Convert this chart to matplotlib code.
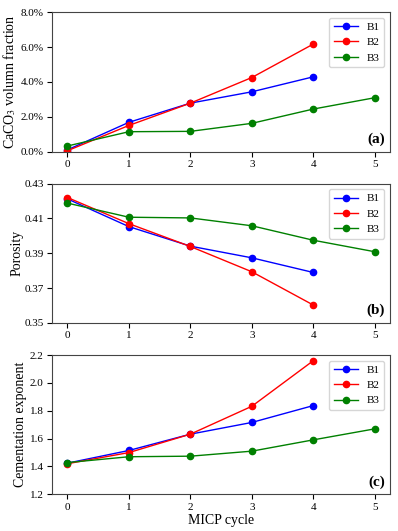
import numpy as np
import matplotlib.pyplot as plt
from matplotlib.ticker import FuncFormatter

plt.rcParams['font.family'] = ['Liberation Serif', 'DejaVu Serif']
plt.rcParams['mathtext.fontset'] = 'stix'

cycles_b12 = [0, 1, 2, 3, 4]
cycles_b3 = [0, 1, 2, 3, 4, 5]

# CaCO3 volume fraction (%)
caco3_b1 = [0.10, 1.68, 2.78, 3.43, 4.29]
caco3_b2 = [0.05, 1.50, 2.78, 4.25, 6.17]
caco3_b3 = [0.32, 1.14, 1.16, 1.62, 2.44, 3.09]

# porosity
por_b1 = [0.4212, 0.4053, 0.3941, 0.3874, 0.3790]
por_b2 = [0.4220, 0.4070, 0.3939, 0.3794, 0.3603]
por_b3 = [0.4188, 0.4107, 0.4103, 0.4058, 0.3975, 0.3909]

# cementation exponent
cem_b1 = [1.424, 1.515, 1.632, 1.716, 1.837]
cem_b2 = [1.420, 1.500, 1.632, 1.832, 2.159]
cem_b3 = [1.428, 1.470, 1.474, 1.510, 1.591, 1.670]

fig, axes = plt.subplots(3, 1, figsize=(3.98, 5.31), dpi=100)
fig.subplots_adjust(left=0.131, right=0.98, top=0.977, bottom=0.069, hspace=0.23)

panels = [
    (caco3_b1, caco3_b2, caco3_b3, r'CaCO$_3$ volumn fraction', (0, 8), [0, 2, 4, 6, 8], '(a)', -0.10),
    (por_b1, por_b2, por_b3, 'Porosity', (0.35, 0.43), [0.35, 0.37, 0.39, 0.41, 0.43], '(b)', -0.086),
    (cem_b1, cem_b2, cem_b3, 'Cementation exponent', (1.2, 2.2), [1.2, 1.4, 1.6, 1.8, 2.0, 2.2], '(c)', -0.074),
]

for i, (ax, (b1, b2, b3, ylab, ylim, yt, tag, lx)) in enumerate(zip(axes, panels)):
    ax.plot(cycles_b12, b1, 'o-', color='blue', lw=1, ms=4.5, label='B1')
    ax.plot(cycles_b12, b2, 'o-', color='red', lw=1, ms=4.5, label='B2')
    ax.plot(cycles_b3, b3, 'o-', color='green', lw=1, ms=4.5, label='B3')
    ax.set_ylim(*ylim)
    ax.set_yticks(yt)
    ax.set_xticks(range(6))
    ax.set_ylabel(ylab, fontsize=10)
    ax.yaxis.set_label_coords(lx, 0.5)
    ax.tick_params(labelsize=8, pad=2.5)
    ax.legend(loc='upper right', fontsize=8, handlelength=2.2)
    ax.text(0.985, 0.04, tag, transform=ax.transAxes, ha='right', va='bottom',
            fontsize=11, fontweight='bold')
    if i == 0:
        ax.yaxis.set_major_formatter(FuncFormatter(lambda v, p: '%.1f%%' % v))
    elif i == 1:
        ax.yaxis.set_major_formatter(FuncFormatter(lambda v, p: '%.2f' % v))
    else:
        ax.yaxis.set_major_formatter(FuncFormatter(lambda v, p: '%.1f' % v))
    for s in ax.spines.values():
        s.set_color('#444444')

axes[2].set_xlabel('MICP cycle', fontsize=10, labelpad=2)

plt.savefig('out.png')
